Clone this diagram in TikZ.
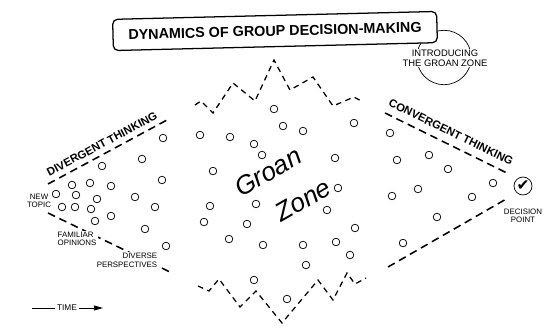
\documentclass[tikz,border=0pt]{standalone}
\usepackage{fontspec}
\setmainfont{Liberation Sans}
\newfontfamily\symfont{DejaVu Sans}
\usepackage{tikz}
\usetikzlibrary{positioning,arrows.meta,shapes}

\begin{document}
\begin{tikzpicture}[x=0.025cm, y=-0.025cm,
        idea/.style={draw, circle, line width=0.5pt, minimum size=0.19cm, inner sep=0pt},
        fence/.style={line width=1.1pt, dash pattern=on 5.5pt off 3.5pt},
        rim/.style={line width=0.9pt, dash pattern=on 4pt off 3.2pt},
        tag/.style={font=\fontsize{5.6}{6}\selectfont, align=center, inner sep=1pt},
        phase/.style={font=\fontsize{8}{9}\selectfont\bfseries, inner sep=0pt},
        big/.style={font=\fontsize{18.5}{20}\selectfont\itshape, inner sep=0pt}]
        \useasboundingbox (0,0) rectangle (549,331);

        % Intro badge
        \draw[line width=0.5pt] (444,57.5) circle (0.68cm);
        \node[fill=white, inner sep=0.5pt, align=center, font=\fontsize{6.7}{7.4}\selectfont] (intro) at (445,58) {INTRODUCING\\THE GROAN ZONE};

        % Title
        \node[draw, fill=white, rounded corners=3.5pt, line width=0.9pt, minimum width=8.1cm, minimum height=0.78cm, rotate=1.4, font=\fontsize{10.2}{12}\selectfont\bfseries] (title) at (275,31) {DYNAMICS OF GROUP DECISION-MAKING};

        % Divergent wedge
        \draw[fence] (48,184) -- (167,120);
        \draw[fence] (48,213) -- (170,272);
        \node[phase, rotate=28] (div) at (102,144) {DIVERGENT THINKING};

        % Convergent wedge
        \draw[fence] (385,113) -- (507,173);
        \draw[fence] (388,267) -- (508,198);
        \node[phase, rotate=-26] (conv) at (451,132) {CONVERGENT THINKING};

        % Groan zone
        \draw[rim] (195,105) -- (201,101) -- (213,113) -- (233,83) -- (255,101) -- (274,60) -- (290,90) -- (313,77) -- (333,106) -- (354,97) -- (363,102);
        \draw[rim] (198,286) -- (209,291) -- (219,279) -- (240,307) -- (256,291) -- (282,323) -- (318,280) -- (333,300) -- (347,273) -- (355,284) -- (366,278);
        \node[big, rotate=30] (groan) at (268,172) {Groan};
        \node[big, rotate=30] (zone) at (303,200) {Zone};

        % Ideas
        \foreach \x/\y [count=\i] in {163/138, 142/159, 102/166, 72/185, 90/183, 111/186, 162/180,
                56/194, 76/195, 97/199, 135/197, 62/207, 75/207, 91/209, 155/207, 95/221,
                111/216, 145/229, 166/246}
            \node[idea] (dv\i) at (\x,\y) {};
        \foreach \x/\y [count=\i] in {274/109, 283/126, 303/131, 354/123, 200/135, 230/137, 254/144,
                262/155, 335/158, 213/171, 338/188, 210/206, 256/204, 327/210, 204/222, 247/224,
                355/228, 229/239, 263/245, 303/245, 336/242, 350/255, 306/265, 254/280, 287/299}
            \node[idea] (gz\i) at (\x,\y) {};
        \foreach \x/\y [count=\i] in {390/133, 397/160, 429/155, 448/169, 493/183, 392/196,
                418/189, 472/197, 437/217, 403/243}
            \node[idea] (cv\i) at (\x,\y) {};

        % Labels
        \node[tag, fill=white] (newtopic) at (39,201) {NEW\\TOPIC};
        \node[tag, fill=white, align=left] (familiar) at (77,239) {FAMILIAR\\OPINIONS};
        \node[tag, fill=white, align=right] (diverse) at (127,260.5) {DIVERSE\\PERSPECTIVES};

        % Decision point
        \node[draw, circle, line width=0.5pt, minimum size=0.45cm, inner sep=0pt] (check) at (523,186) {\symfont\fontsize{11}{11}\selectfont ✔};
        \node[tag, below=0.3cm of check] (decision) {DECISION\\POINT};

        % Time arrow
        \node[font=\fontsize{5.9}{6}\selectfont, inner sep=1.5pt] (time) at (67,308) {TIME};
        \coordinate (tstart) at (32,308);
        \coordinate (tend) at (103,308);
        \draw[line width=0.6pt] (tstart) -- (time);
        \draw[line width=0.6pt, -{Triangle[length=6.5pt, width=3.5pt]}] (time) -- (tend);
    \end{tikzpicture}
\end{document}
